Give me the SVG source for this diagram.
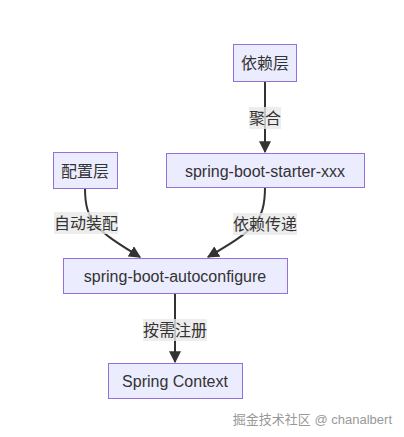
<svg xmlns="http://www.w3.org/2000/svg" width="404" height="437" viewBox="0 0 404 437">
<style>
.node rect{fill:#ECECFF;stroke:#9370DB;stroke-width:1}
.node text{font-family:"Liberation Sans","Noto Sans CJK SC",sans-serif;font-size:16px;fill:#333;text-anchor:middle;dominant-baseline:central}
.edge{fill:none;stroke:#333;stroke-width:2}
.lbl rect{fill:#e8e8e8;opacity:0.8}
.lbl text{font-family:"Liberation Sans","Noto Sans CJK SC",sans-serif;font-size:16px;fill:#333;text-anchor:middle;dominant-baseline:central}
.wm{font-family:"Liberation Sans","Noto Sans CJK SC",sans-serif;font-size:13px;fill:#999}
</style>
<defs>
<marker id="arr" viewBox="0 0 10 10" refX="9" refY="5" markerWidth="12" markerHeight="12" markerUnits="userSpaceOnUse" orient="auto">
<path d="M0,0 L10,5 L0,10 z" fill="#333"/>
</marker>
</defs>
<rect width="404" height="437" fill="#fff"/>
<g id="connectors">
<path class="edge" d="M265,81 L265,152" marker-end="url(#arr)"/>
<path class="edge" d="M85,188 C85,222 96,230 140,257" marker-end="url(#arr)"/>
<path class="edge" d="M265,187 C265,222 254,230 208,257" marker-end="url(#arr)"/>
<path class="edge" d="M175,293 L175,362" marker-end="url(#arr)"/>
<g class="lbl"><rect x="249" y="107" width="32" height="22"/><text x="265" y="118">聚合</text></g>
<g class="lbl"><rect x="54" y="212" width="64" height="22"/><text x="86" y="223">自动装配</text></g>
<g class="lbl"><rect x="233" y="213" width="64" height="22"/><text x="265" y="224">依赖传递</text></g>
<g class="lbl"><rect x="143" y="319" width="64" height="22"/><text x="175" y="330">按需注册</text></g>
</g>
<g id="n1" class="node"><rect x="233.5" y="44.5" width="63" height="37"/><text x="265" y="63">依赖层</text></g>
<g id="n2" class="node"><rect x="166.5" y="153.5" width="198" height="34"/><text x="265" y="171">spring-boot-starter-xxx</text></g>
<g id="n3" class="node"><rect x="53.5" y="152.5" width="64" height="36"/><text x="85" y="171">配置层</text></g>
<g id="n4" class="node"><rect x="63.5" y="258.5" width="224" height="35"/><text x="175" y="276">spring-boot-autoconfigure</text></g>
<g id="n5" class="node"><rect x="108.5" y="363.5" width="134" height="35"/><text x="175" y="381">Spring Context</text></g>
<text class="wm" x="392" y="424" text-anchor="end">掘金技术社区 @ chanalbert</text>
</svg>
